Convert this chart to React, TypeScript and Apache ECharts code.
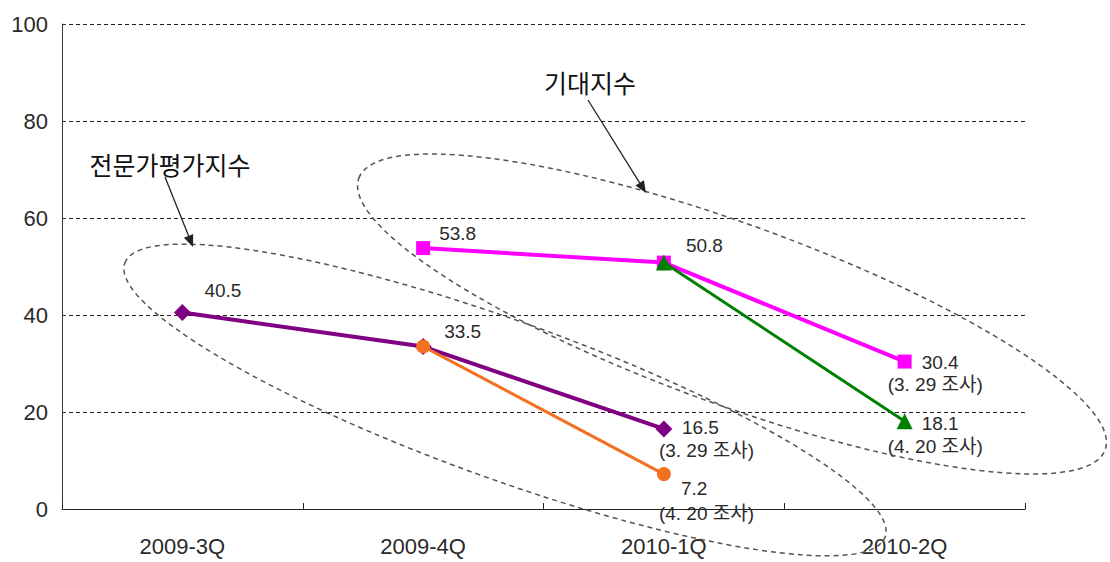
import React, { useEffect, useRef } from "react";
import * as echarts from "echarts";

// ---- data ----
const categories = ["2009-3Q", "2009-4Q", "2010-1Q", "2010-2Q"];
const yMin = 0;
const yMax = 100;
const yStep = 20;

// 전문가평가지수
const expertMar: (number | null)[] = [40.5, 33.5, 16.5, null]; // 3.29 조사
const expertApr: (number | null)[] = [null, 33.5, 7.2, null]; // 4.20 조사
// 기대지수
const expectMar: (number | null)[] = [null, 53.8, 50.8, 30.4]; // 3.29 조사
const expectApr: (number | null)[] = [null, null, 50.8, 18.1]; // 4.20 조사

const noteMar = "(3. 29 조사)";
const noteApr = "(4. 20 조사)";
const titleExpert = "전문가평가지수";
const titleExpect = "기대지수";

// which points carry a label and which note they carry
const expertMarLabels = [true, false, true, false];
const expertMarNotes = ["", "", noteMar, ""];
const expertAprLabels = [false, true, true, false];
const expertAprNotes = ["", "", noteApr, ""];
const expectMarLabels = [false, true, true, true];
const expectMarNotes = ["", "", "", noteMar];
const expectAprLabels = [false, false, false, true];
const expectAprNotes = ["", "", "", noteApr];

const FONT = "'Liberation Sans', 'Noto Sans CJK KR', sans-serif";

// label placement (style only): [dx, dy, firstLinePad, lineHeight]
type Place = [number, number, number, number];
const place = {
  expertMar: [[22, -22, 0, 22], null, [-5, 10, 23, 23], null] as (Place | null)[],
  expertApr: [null, [21, -15, 0, 22], [-5, 27, 22, 25], null] as (Place | null)[],
  expectMar: [null, [16, -15, 0, 22], [22, -17, 0, 22], [-17, 12, 34, 22]] as (Place | null)[],
  expectApr: [null, null, null, [-17, 14, 34, 23]] as (Place | null)[],
};

function buildData(
  values: (number | null)[],
  shows: boolean[],
  notes: string[],
  places: (Place | null)[]
) {
  return values.map((v, i) => {
    if (v == null) return null;
    const p = places[i];
    if (!shows[i] || !p) return { value: v };
    const [dx, dy, pad, lh] = p;
    const note = notes[i];
    return {
      value: v,
      label: {
        show: true,
        position: "inside",
        align: "left",
        verticalAlign: "middle",
        offset: [dx, dy],
        formatter: note ? `{v|${v}}\n{s|${note}}` : `{v|${v}}`,
        rich: {
          v: { fontSize: 19, color: "#2a2a2a", padding: [0, 0, 0, pad], lineHeight: lh, fontFamily: FONT },
          s: { fontSize: 19, color: "#2a2a2a", lineHeight: lh, fontFamily: FONT },
        },
      },
    };
  });
}

function arrow(x1: number, y1: number, x2: number, y2: number) {
  const ang = Math.atan2(y2 - y1, x2 - x1);
  const L = 12;
  const W = 5;
  const bx = x2 - L * Math.cos(ang);
  const by = y2 - L * Math.sin(ang);
  const px = -Math.sin(ang) * W;
  const py = Math.cos(ang) * W;
  return [
    {
      type: "line",
      shape: { x1, y1, x2: bx, y2: by },
      style: { stroke: "#222", lineWidth: 1.3 },
    },
    {
      type: "polygon",
      shape: { points: [[x2, y2], [bx + px, by + py], [bx - px, by - py]] },
      style: { fill: "#222" },
    },
  ];
}

export default function App() {
  const ref = useRef<HTMLDivElement>(null);
  useEffect(() => {
    document.body.style.margin = "0";
    if (!ref.current) return;
    const chart = echarts.init(ref.current, undefined, { renderer: "svg" });
    const deg = Math.PI / 180;
    chart.setOption({
      animation: false,
      backgroundColor: "#fff",
      textStyle: { fontFamily: FONT },
      grid: { left: 62, right: 85, top: 24, bottom: 53 },
      xAxis: {
        type: "category",
        data: categories,
        boundaryGap: true,
        axisLine: { lineStyle: { color: "#222", width: 1 } },
        axisTick: { show: true, inside: true, length: 6, lineStyle: { color: "#222" } },
        axisLabel: { fontSize: 22, color: "#2a2a2a", margin: 26, fontFamily: FONT },
        splitLine: { show: false },
      },
      yAxis: {
        type: "value",
        min: yMin,
        max: yMax,
        interval: yStep,
        axisLine: { show: true, lineStyle: { color: "#333", width: 1 } },
        axisTick: { show: true, inside: true, length: 4, lineStyle: { color: "#333" } },
        axisLabel: { fontSize: 22, color: "#2a2a2a", margin: 14, fontFamily: FONT },
        splitLine: { show: true, lineStyle: { color: "#222", width: 1, type: [4, 3] } },
      },
      series: [
        {
          name: "전문가평가지수 (3.29)",
          type: "line",
          data: buildData(expertMar, expertMarLabels, expertMarNotes, place.expertMar),
          symbol: "diamond",
          symbolSize: 17,
          itemStyle: { color: "#7F0080" },
          lineStyle: { color: "#7F0080", width: 4 },
          label: { show: false },
          z: 2,
        },
        {
          name: "전문가평가지수 (4.20)",
          type: "line",
          data: buildData(expertApr, expertAprLabels, expertAprNotes, place.expertApr),
          symbol: "circle",
          symbolSize: 14,
          itemStyle: { color: "#F37021" },
          lineStyle: { color: "#F37021", width: 3 },
          label: { show: false },
          z: 3,
        },
        {
          name: "기대지수 (3.29)",
          type: "line",
          data: buildData(expectMar, expectMarLabels, expectMarNotes, place.expectMar),
          symbol: "rect",
          symbolSize: 14,
          itemStyle: { color: "#FF00FF" },
          lineStyle: { color: "#FF00FF", width: 4 },
          label: { show: false },
          z: 4,
        },
        {
          name: "기대지수 (4.20)",
          type: "line",
          data: buildData(expectApr, expectAprLabels, expectAprNotes, place.expectApr),
          symbol: "triangle",
          symbolSize: 16,
          itemStyle: { color: "#008000" },
          lineStyle: { color: "#008000", width: 3 },
          label: { show: false },
          z: 5,
        },
      ],
      graphic: [
        {
          type: "ellipse",
          x: 505,
          y: 400,
          rotation: -19.8 * deg,
          shape: { cx: 0, cy: 0, rx: 404, ry: 79 },
          style: { fill: "none", stroke: "#555", lineWidth: 1.5, lineDash: [5, 4] },
          z: 10,
        },
        {
          type: "ellipse",
          x: 732,
          y: 314,
          rotation: -20 * deg,
          shape: { cx: 0, cy: 0, rx: 397, ry: 90 },
          style: { fill: "none", stroke: "#555", lineWidth: 1.5, lineDash: [5, 4] },
          z: 10,
        },
        {
          type: "text",
          x: 590,
          y: 82,
          style: {
            text: titleExpect,
            fontSize: 25,
            fill: "#111",
            fontFamily: "'Noto Sans CJK KR', sans-serif",
            textAlign: "center",
            textVerticalAlign: "middle",
          },
          z: 10,
        },
        {
          type: "text",
          x: 170,
          y: 164,
          style: {
            text: titleExpert,
            fontSize: 25,
            fill: "#111",
            fontFamily: "'Noto Sans CJK KR', sans-serif",
            textAlign: "center",
            textVerticalAlign: "middle",
          },
          z: 10,
        },
        ...arrow(588, 100, 646, 193).map((e) => ({ ...e, z: 10 })),
        ...arrow(165, 177, 193, 247).map((e) => ({ ...e, z: 10 })),
      ],
    });
    return () => chart.dispose();
  }, []);
  return <div ref={ref} style={{ width: 1110, height: 562 }} />;
}
